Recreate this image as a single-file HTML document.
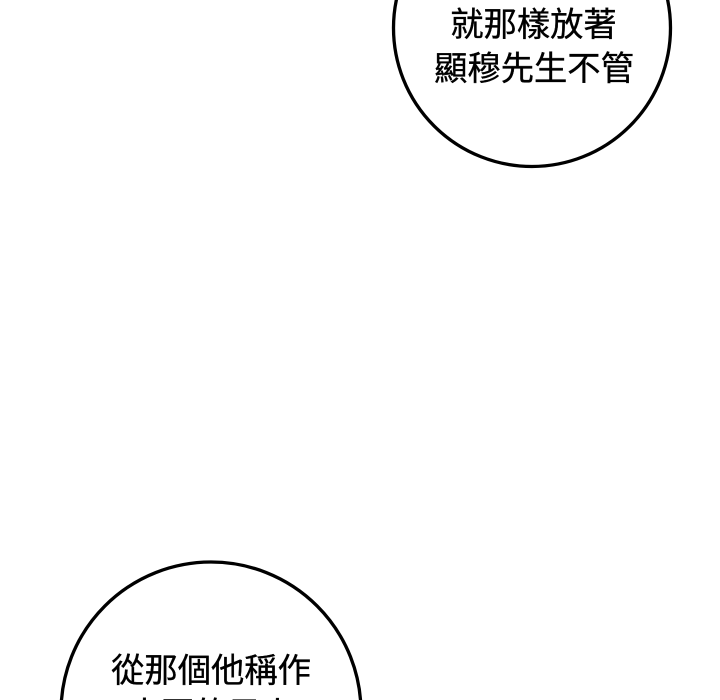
<!DOCTYPE html>
<html>
<head>
<meta charset="utf-8">
<style>
html,body{margin:0;padding:0;background:#fff;width:720px;height:700px;overflow:hidden}
svg{display:block}
text{font-family:"Liberation Sans","Noto Sans CJK TC",sans-serif;font-size:33.3px;fill:#000;stroke:#000;stroke-width:.35px;text-anchor:middle}
</style>
</head>
<body>
<svg width="720" height="700" viewBox="0 0 720 700" xmlns="http://www.w3.org/2000/svg">
<rect width="720" height="700" fill="#fff"/>
<circle cx="532" cy="28" r="138.5" fill="#fff" stroke="#000" stroke-width="3.3"/>
<circle cx="211" cy="712" r="150" fill="#fff" stroke="#000" stroke-width="3.3"/>
<text x="533.5" y="36">就那樣放著</text>
<text x="534" y="80">顯穆先生不管</text>
<text x="211" y="682">從那個他稱作</text>
<text x="211" y="726">大哥的男人</text>
</svg>
</body>
</html>
